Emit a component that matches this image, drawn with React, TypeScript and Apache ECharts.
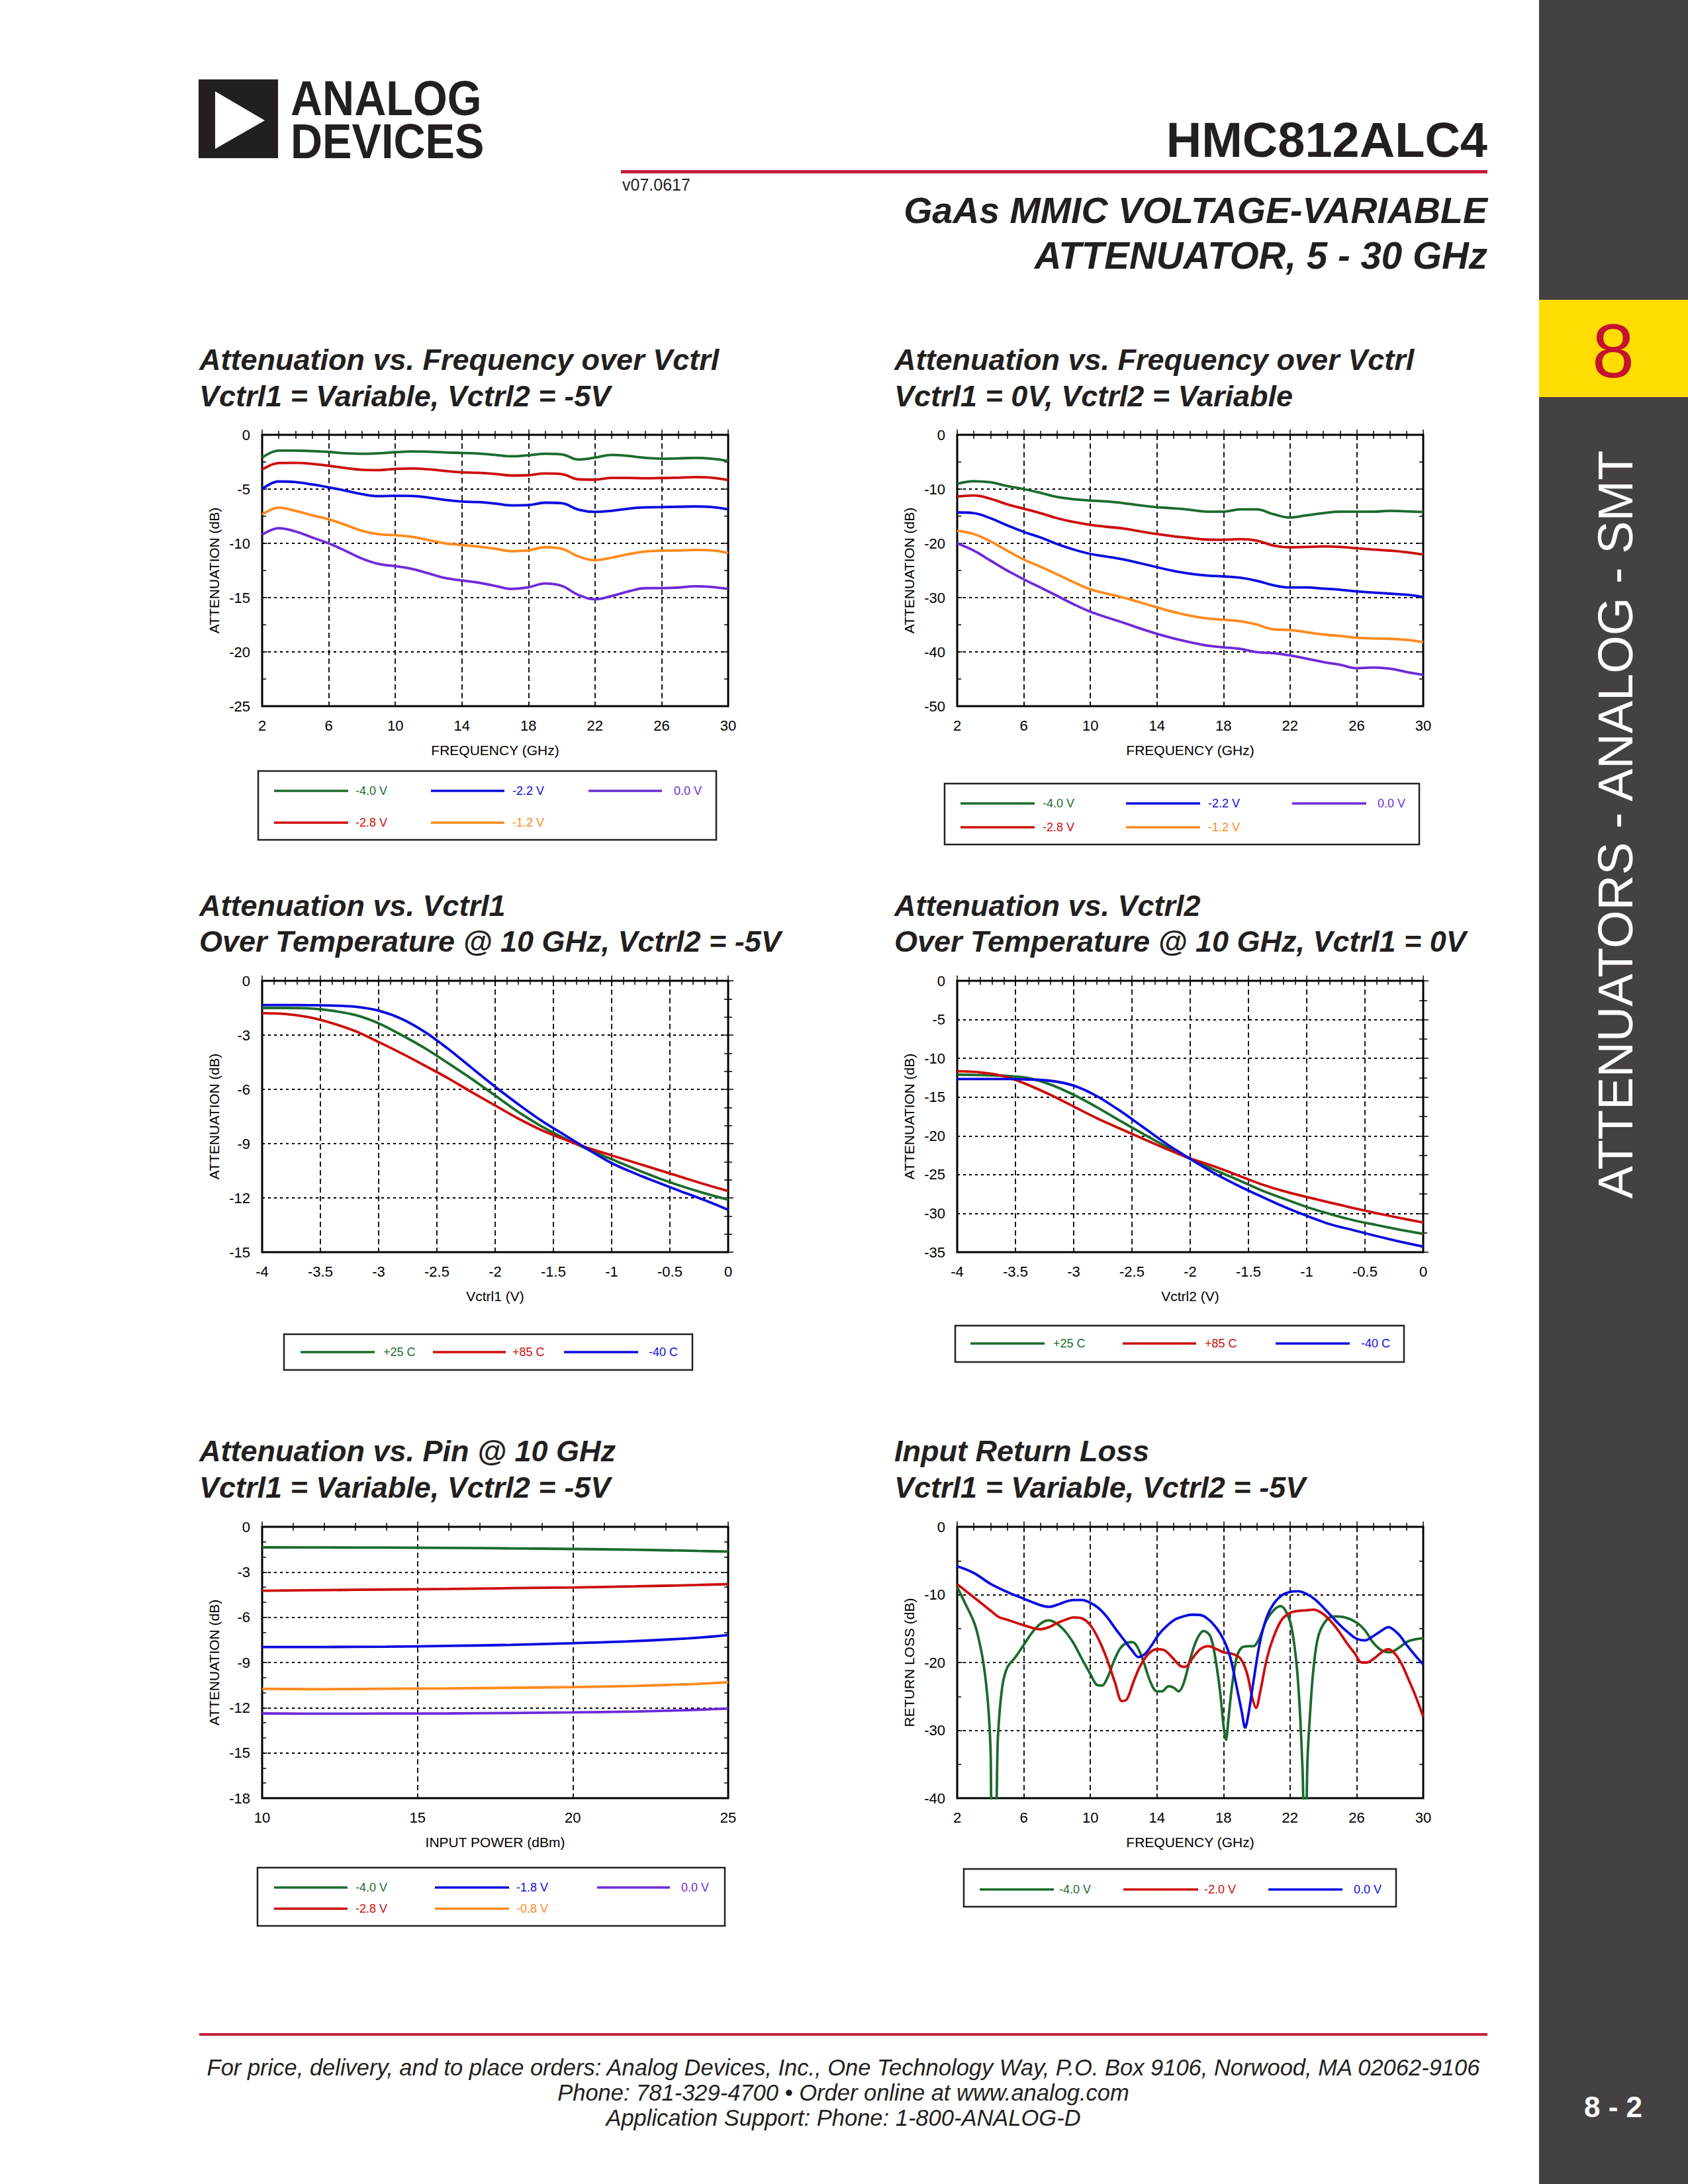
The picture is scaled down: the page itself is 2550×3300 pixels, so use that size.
import React, { useEffect, useRef } from "react";
import * as echarts from "echarts";

const FONT = '"Liberation Sans", Arial, Helvetica, sans-serif';
const GREEN = "#1b6b2c";
const RED = "#cc0d0d";
const BLUE = "#0b0be0";
const ORANGE = "#ff8a1e";
const PURPLE = "#6e2ad8";

// ---------- Chart 1: Attenuation vs Frequency over Vctrl1 ----------
const freqGHz = [2, 3, 4, 5, 6, 7, 8, 9, 10, 11, 12, 13, 14, 15, 16, 17, 18, 19, 20, 21, 22, 23, 24, 25, 26, 27, 28, 29, 30];
const c1Labels = ["-4.0 V", "-2.8 V", "-2.2 V", "-1.2 V", "0.0 V"];
const c1_v40 = [-2.1, -1.45, -1.45, -1.5, -1.57, -1.7, -1.75, -1.7, -1.6, -1.53, -1.56, -1.62, -1.67, -1.73, -1.85, -1.98, -1.88, -1.75, -1.8, -2.28, -2.1, -1.85, -1.95, -2.12, -2.2, -2.17, -2.13, -2.2, -2.4];
const c1_v28 = [-3.2, -2.6, -2.58, -2.68, -2.85, -3.05, -3.22, -3.25, -3.15, -3.1, -3.18, -3.33, -3.45, -3.5, -3.6, -3.75, -3.72, -3.56, -3.62, -4.1, -4.13, -3.97, -3.97, -4.0, -3.98, -3.95, -3.9, -3.95, -4.17];
const c1_v22 = [-5.0, -4.3, -4.35, -4.57, -4.84, -5.14, -5.47, -5.65, -5.62, -5.63, -5.78, -6.0, -6.15, -6.2, -6.34, -6.5, -6.47, -6.25, -6.3, -6.9, -7.1, -7.0, -6.8, -6.68, -6.66, -6.63, -6.6, -6.65, -6.87];
const c1_v12 = [-7.35, -6.72, -7.0, -7.42, -7.78, -8.3, -8.85, -9.15, -9.25, -9.4, -9.7, -10.0, -10.15, -10.3, -10.5, -10.72, -10.65, -10.35, -10.5, -11.2, -11.55, -11.32, -11.0, -10.75, -10.68, -10.66, -10.6, -10.65, -10.88];
const c1_v00 = [-9.2, -8.6, -8.9, -9.45, -10.0, -10.68, -11.4, -11.9, -12.1, -12.35, -12.77, -13.2, -13.42, -13.62, -13.92, -14.2, -14.05, -13.7, -13.92, -14.75, -15.15, -14.85, -14.43, -14.13, -14.12, -14.07, -13.96, -14.02, -14.2];

// ---------- Chart 2: Attenuation vs Frequency over Vctrl2 ----------
const c2Labels = ["-4.0 V", "-2.8 V", "-2.2 V", "-1.2 V", "0.0 V"];
const c2_v40 = [-9.02, -8.54, -8.74, -9.43, -10.0, -10.69, -11.46, -11.87, -12.11, -12.28, -12.6, -13.0, -13.33, -13.54, -13.82, -14.15, -14.15, -13.74, -13.74, -14.63, -15.24, -14.84, -14.43, -14.15, -14.15, -14.15, -14.02, -14.1, -14.23];
const c2_v28 = [-11.38, -11.18, -11.79, -12.8, -13.62, -14.43, -15.37, -16.06, -16.59, -16.95, -17.28, -17.8, -18.29, -18.7, -19.02, -19.3, -19.35, -19.23, -19.5, -20.4, -20.73, -20.65, -20.57, -20.65, -20.9, -21.14, -21.34, -21.63, -22.07];
const c2_v22 = [-14.3, -14.43, -15.37, -16.67, -17.89, -18.9, -20.12, -21.14, -21.95, -22.44, -22.97, -23.66, -24.39, -25.08, -25.6, -25.93, -26.1, -26.34, -26.9, -27.72, -28.13, -28.13, -28.33, -28.54, -28.86, -29.07, -29.27, -29.47, -29.88];
const c2_v12 = [-17.68, -18.29, -19.63, -21.34, -22.97, -24.31, -25.69, -27.15, -28.46, -29.27, -30.0, -30.89, -31.79, -32.64, -33.33, -33.82, -34.07, -34.35, -34.96, -35.85, -35.97, -36.38, -36.79, -37.07, -37.4, -37.52, -37.6, -37.8, -38.21];
const c2_v00 = [-20.0, -21.34, -23.17, -25.0, -26.63, -28.13, -29.67, -31.22, -32.6, -33.66, -34.63, -35.69, -36.67, -37.52, -38.21, -38.82, -39.15, -39.43, -40.04, -40.24, -40.65, -41.26, -41.87, -42.36, -43.0, -42.89, -43.09, -43.7, -44.23];

// ---------- Chart 3 & 4: Attenuation vs Vctrl over temperature ----------
const vctrlV = [-4, -3.8, -3.6, -3.4, -3.2, -3, -2.8, -2.6, -2.4, -2.2, -2, -1.8, -1.6, -1.4, -1.2, -1, -0.8, -0.6, -0.4, -0.2, 0];
const tempLabels = ["+25 C", "+85 C", "-40 C"];
const c3_p25 = [-1.5, -1.5, -1.52, -1.65, -1.89, -2.35, -3.01, -3.74, -4.57, -5.43, -6.34, -7.26, -8.05, -8.72, -9.33, -9.86, -10.4, -10.9, -11.35, -11.75, -12.1];
const c3_p85 = [-1.79, -1.83, -2.01, -2.34, -2.78, -3.38, -4.02, -4.7, -5.4, -6.16, -6.89, -7.62, -8.26, -8.78, -9.25, -9.65, -10.05, -10.45, -10.85, -11.25, -11.62];
const c3_m40 = [-1.34, -1.34, -1.35, -1.37, -1.43, -1.65, -2.11, -2.84, -3.78, -4.82, -5.85, -6.83, -7.74, -8.54, -9.33, -10.08, -10.65, -11.16, -11.65, -12.13, -12.66];
const c4_p25 = [-12.1, -12.15, -12.24, -12.52, -13.37, -14.71, -16.31, -18.07, -19.78, -21.43, -22.97, -24.33, -25.61, -26.95, -28.09, -29.17, -30.08, -30.88, -31.5, -32.1, -32.64];
const c4_p85 = [-11.67, -11.81, -12.3, -13.37, -14.71, -16.22, -17.73, -19.07, -20.4, -21.71, -22.91, -23.9, -25.04, -26.18, -27.12, -27.89, -28.6, -29.31, -29.97, -30.59, -31.16];
const c4_m40 = [-12.66, -12.66, -12.66, -12.72, -12.89, -13.52, -14.88, -16.79, -18.92, -21.06, -22.97, -24.76, -26.33, -27.75, -29.11, -30.31, -31.39, -32.16, -32.93, -33.64, -34.29];

// ---------- Chart 5: Attenuation vs Pin ----------
const pinDbm = [10, 12, 14, 16, 18, 20, 22, 24, 25];
const c5Labels = ["-4.0 V", "-2.8 V", "-1.8 V", "-0.8 V", "0.0 V"];
const c5_v40 = [-1.36, -1.37, -1.38, -1.4, -1.43, -1.47, -1.52, -1.6, -1.64];
const c5_v28 = [-4.24, -4.2, -4.16, -4.12, -4.07, -4.02, -3.95, -3.86, -3.8];
const c5_v18 = [-7.97, -7.97, -7.95, -7.9, -7.83, -7.72, -7.58, -7.36, -7.17];
const c5_v08 = [-10.75, -10.77, -10.74, -10.72, -10.68, -10.63, -10.55, -10.42, -10.31];
const c5_v00 = [-12.38, -12.4, -12.39, -12.38, -12.35, -12.31, -12.25, -12.14, -12.06];

// ---------- Chart 6: Input Return Loss ----------
const c6Labels = ["-4.0 V", "-2.0 V", "0.0 V"];
const rlFreqG = [2, 2.5, 3, 3.3, 3.6, 3.85, 4.0, 4.1, 4.3, 4.45, 4.7, 5, 5.5, 6, 6.5, 7, 7.5, 8, 8.5, 9, 9.5, 10, 10.4, 10.7, 11, 11.4, 11.8, 12.2, 12.5, 12.8, 13.2, 13.6, 14, 14.3, 14.7, 15, 15.3, 15.6, 16, 16.4, 16.8, 17.2, 17.5, 17.8, 18.0, 18.15, 18.3, 18.5, 18.8, 19.1, 19.5, 19.8, 20.1, 20.6, 21.05, 21.45, 21.8, 22.1, 22.4, 22.6, 22.75, 22.85, 22.95, 23.05, 23.2, 23.4, 23.7, 24.2, 24.7, 25.2, 25.7, 26.2, 26.6, 27, 27.5, 28, 28.5, 29, 29.4, 30];
const rlG = [-8.85, -11.4, -14.0, -16.6, -20.5, -26.0, -32.5, -42, -42, -30.9, -23.7, -20.8, -19.2, -17.4, -15.6, -14.3, -13.8, -14.3, -15.45, -17.2, -19.5, -21.7, -23.3, -23.4, -22.4, -19.9, -17.9, -17.1, -17.0, -17.6, -19.9, -22.8, -24.25, -24.25, -23.5, -23.7, -24.25, -23.1, -19.5, -16.6, -15.35, -16.1, -19.2, -24.4, -29.3, -31.4, -28.3, -23.7, -19.2, -17.8, -17.6, -17.6, -16.7, -13.7, -12.2, -11.7, -12.7, -14.95, -20.5, -27.6, -35.8, -42, -42, -34.1, -27.6, -21.1, -16.1, -13.7, -13.2, -13.3, -13.7, -14.5, -15.6, -17.1, -18.2, -18.5, -17.9, -17.0, -16.65, -16.4];
const rlFreqR = [2, 3, 4, 4.5, 5, 6, 7, 7.5, 8, 8.5, 9, 9.5, 10, 10.5, 11, 11.5, 11.9, 12.2, 12.6, 13, 13.5, 14, 14.4, 14.9, 15.4, 15.7, 16.1, 16.6, 17.1, 17.6, 18, 18.5, 19, 19.4, 19.75, 19.95, 20.2, 20.6, 21, 21.5, 22, 22.5, 23, 23.4, 23.9, 24.4, 24.9, 25.4, 25.9, 26.3, 26.6, 27, 27.5, 27.9, 28.3, 28.7, 29.1, 29.5, 30];
const rlR = [-8.45, -10.4, -12.35, -13.3, -13.7, -14.5, -15.1, -14.8, -14.2, -13.7, -13.35, -13.5, -14.5, -16.6, -19.5, -23.1, -25.7, -25.4, -22.8, -20.5, -18.7, -18.05, -18.15, -19.2, -20.5, -20.65, -19.5, -18.05, -17.6, -18.05, -18.5, -18.7, -19.35, -21.5, -25.4, -26.7, -24.4, -19.5, -16.3, -13.7, -12.7, -12.4, -12.3, -12.2, -12.7, -13.8, -15.3, -17.1, -18.7, -20.0, -20.0, -19.5, -18.5, -18.05, -18.7, -20.2, -22.4, -24.7, -28.0];
const rlFreqB = [2, 3, 4, 5, 6, 7, 7.5, 8, 8.5, 9, 9.5, 10, 10.5, 11, 11.5, 12, 12.5, 12.9, 13.3, 13.7, 14.1, 14.6, 15.1, 15.6, 16.1, 16.6, 17.1, 17.6, 18, 18.4, 18.8, 19.1, 19.3, 19.5, 19.8, 20.2, 20.6, 21, 21.5, 22, 22.5, 23, 23.5, 24, 24.5, 25, 25.5, 26, 26.5, 27, 27.5, 27.9, 28.5, 29, 29.5, 30];
const rlB = [-5.8, -6.8, -8.4, -9.6, -10.6, -11.55, -11.8, -11.5, -11.05, -10.8, -10.8, -11.2, -12.0, -13.3, -15.0, -16.6, -18.2, -19.2, -18.7, -17.4, -15.9, -14.6, -13.65, -13.2, -12.95, -13.0, -13.65, -15.0, -16.6, -19.2, -23.7, -27.3, -29.6, -27.6, -22.8, -16.9, -13.3, -11.4, -10.1, -9.6, -9.5, -9.9, -10.7, -11.9, -13.2, -14.5, -15.6, -16.5, -16.75, -16.1, -15.3, -14.8, -15.8, -17.4, -18.9, -20.3];

// ---------- Page texts ----------
const titles = [
  ["Attenuation vs. Frequency over Vctrl", "Vctrl1 = Variable, Vctrl2 = -5V"],
  ["Attenuation vs. Frequency over Vctrl", "Vctrl1 = 0V, Vctrl2 = Variable"],
  ["Attenuation vs. Vctrl1", "Over Temperature @ 10 GHz, Vctrl2 = -5V"],
  ["Attenuation vs. Vctrl2", "Over Temperature @ 10 GHz, Vctrl1 = 0V"],
  ["Attenuation vs. Pin @ 10 GHz", "Vctrl1 = Variable, Vctrl2 = -5V"],
  ["Input Return Loss", "Vctrl1 = Variable, Vctrl2 = -5V"],
];
const footerLines = [
  "For price, delivery, and to place orders: Analog Devices, Inc., One Technology Way, P.O. Box 9106, Norwood, MA 02062-9106",
  "Phone: 781-329-4700 \u2022 Order online at www.analog.com",
  "Application Support: Phone: 1-800-ANALOG-D",
];

type AxisCfg = { min: number; max: number; interval: number; minor: number; name: string };

function zip(xs: number[], ys: number[]) {
  return xs.map((x, i) => [x, ys[i]]);
}

function buildAxes(gi: number, x: AxisCfg, y: AxisCfg) {
  const tick = { color: "#000", width: 1.5 };
  const label = { color: "#000", fontSize: 22, fontFamily: FONT };
  const nameStyle = { color: "#000", fontSize: 21, fontFamily: FONT };
  const base = (c: AxisCfg) => ({
    type: "value",
    gridIndex: gi,
    min: c.min,
    max: c.max,
    interval: c.interval,
    axisLine: { show: false },
    axisTick: { show: true, inside: true, length: 8, lineStyle: tick },
    minorTick: { show: true, splitNumber: c.minor, length: 6, lineStyle: tick },
  });
  const xb = {
    ...base(x),
    position: "bottom",
    axisLabel: { ...label, margin: 18, showMinLabel: true, showMaxLabel: true },
    splitLine: { show: true, lineStyle: { color: "#000", width: 1.8, type: [8, 5] } },
    name: x.name,
    nameLocation: "middle",
    nameGap: 56,
    nameTextStyle: nameStyle,
  };
  const xt = { ...base(x), position: "top", axisLabel: { show: false }, splitLine: { show: false } };
  const yl = {
    ...base(y),
    position: "left",
    axisLabel: { ...label, margin: 18, showMinLabel: true, showMaxLabel: true },
    splitLine: { show: true, lineStyle: { color: "#000", width: 1.8, type: [4, 5] } },
    name: y.name,
    nameLocation: "middle",
    nameGap: 62,
    nameTextStyle: nameStyle,
  };
  const yr = { ...base(y), position: "right", axisLabel: { show: false }, splitLine: { show: false } };
  return { xs: [xb, xt], ys: [yl, yr] };
}

type SeriesDef = { name: string; color: string; data: number[][] };

const charts: { grid: number[]; x: AxisCfg; y: AxisCfg; smooth: number; series: SeriesDef[] }[] = [
  {
    grid: [396, 657, 704, 410],
    x: { min: 2, max: 30, interval: 4, minor: 4, name: "FREQUENCY (GHz)" },
    y: { min: -25, max: 0, interval: 5, minor: 2, name: "ATTENUATION (dB)" },
    smooth: 0.4,
    series: [
      { name: c1Labels[0], color: GREEN, data: zip(freqGHz, c1_v40) },
      { name: c1Labels[1], color: RED, data: zip(freqGHz, c1_v28) },
      { name: c1Labels[2], color: BLUE, data: zip(freqGHz, c1_v22) },
      { name: c1Labels[3], color: ORANGE, data: zip(freqGHz, c1_v12) },
      { name: c1Labels[4], color: PURPLE, data: zip(freqGHz, c1_v00) },
    ],
  },
  {
    grid: [1446, 657, 704, 410],
    x: { min: 2, max: 30, interval: 4, minor: 4, name: "FREQUENCY (GHz)" },
    y: { min: -50, max: 0, interval: 10, minor: 2, name: "ATTENUATION (dB)" },
    smooth: 0.4,
    series: [
      { name: c2Labels[0], color: GREEN, data: zip(freqGHz, c2_v40) },
      { name: c2Labels[1], color: RED, data: zip(freqGHz, c2_v28) },
      { name: c2Labels[2], color: BLUE, data: zip(freqGHz, c2_v22) },
      { name: c2Labels[3], color: ORANGE, data: zip(freqGHz, c2_v12) },
      { name: c2Labels[4], color: PURPLE, data: zip(freqGHz, c2_v00) },
    ],
  },
  {
    grid: [396, 1482, 704, 410],
    x: { min: -4, max: 0, interval: 0.5, minor: 5, name: "Vctrl1 (V)" },
    y: { min: -15, max: 0, interval: 3, minor: 3, name: "ATTENUATION (dB)" },
    smooth: 0.3,
    series: [
      { name: tempLabels[0], color: GREEN, data: zip(vctrlV, c3_p25) },
      { name: tempLabels[1], color: RED, data: zip(vctrlV, c3_p85) },
      { name: tempLabels[2], color: BLUE, data: zip(vctrlV, c3_m40) },
    ],
  },
  {
    grid: [1446, 1482, 704, 410],
    x: { min: -4, max: 0, interval: 0.5, minor: 5, name: "Vctrl2 (V)" },
    y: { min: -35, max: 0, interval: 5, minor: 2, name: "ATTENUATION (dB)" },
    smooth: 0.3,
    series: [
      { name: tempLabels[0], color: GREEN, data: zip(vctrlV, c4_p25) },
      { name: tempLabels[1], color: RED, data: zip(vctrlV, c4_p85) },
      { name: tempLabels[2], color: BLUE, data: zip(vctrlV, c4_m40) },
    ],
  },
  {
    grid: [396, 2307, 704, 410],
    x: { min: 10, max: 25, interval: 5, minor: 5, name: "INPUT POWER (dBm)" },
    y: { min: -18, max: 0, interval: 3, minor: 3, name: "ATTENUATION (dB)" },
    smooth: 0.4,
    series: [
      { name: c5Labels[0], color: GREEN, data: zip(pinDbm, c5_v40) },
      { name: c5Labels[1], color: RED, data: zip(pinDbm, c5_v28) },
      { name: c5Labels[2], color: BLUE, data: zip(pinDbm, c5_v18) },
      { name: c5Labels[3], color: ORANGE, data: zip(pinDbm, c5_v08) },
      { name: c5Labels[4], color: PURPLE, data: zip(pinDbm, c5_v00) },
    ],
  },
  {
    grid: [1446, 2307, 704, 410],
    x: { min: 2, max: 30, interval: 4, minor: 4, name: "FREQUENCY (GHz)" },
    y: { min: -40, max: 0, interval: 10, minor: 2, name: "RETURN LOSS (dB)" },
    smooth: 0.35,
    series: [
      { name: c6Labels[0], color: GREEN, data: zip(rlFreqG, rlG) },
      { name: c6Labels[1], color: RED, data: zip(rlFreqR, rlR) },
      { name: c6Labels[2], color: BLUE, data: zip(rlFreqB, rlB) },
    ],
  },
];

// legend layouts: box [x,y,w,h], rows, columns [lineX1,lineX2,textX], entries [col,row,label,color]
const legends = [
  {
    box: [390, 1165, 692, 104], rows: [1195, 1243], cols: [[414, 526, 537], [651, 762, 774], [889, 1000, 1018]],
    items: [[0, 0, c1Labels[0], GREEN], [1, 0, c1Labels[2], BLUE], [2, 0, c1Labels[4], PURPLE], [0, 1, c1Labels[1], RED], [1, 1, c1Labels[3], ORANGE]],
  },
  {
    box: [1427, 1184, 717, 92], rows: [1214, 1250], cols: [[1451, 1563, 1575], [1701, 1813, 1825], [1952, 2064, 2081]],
    items: [[0, 0, c2Labels[0], GREEN], [1, 0, c2Labels[2], BLUE], [2, 0, c2Labels[4], PURPLE], [0, 1, c2Labels[1], RED], [1, 1, c2Labels[3], ORANGE]],
  },
  {
    box: [429, 2016, 617, 54], rows: [2043], cols: [[454, 566, 579], [654, 764, 774], [852, 964, 980]],
    items: [[0, 0, tempLabels[0], GREEN], [1, 0, tempLabels[1], RED], [2, 0, tempLabels[2], BLUE]],
  },
  {
    box: [1443, 2003, 678, 55], rows: [2030], cols: [[1466, 1578, 1591], [1696, 1807, 1820], [1927, 2039, 2056]],
    items: [[0, 0, tempLabels[0], GREEN], [1, 0, tempLabels[1], RED], [2, 0, tempLabels[2], BLUE]],
  },
  {
    box: [389, 2822, 706, 88], rows: [2852, 2884], cols: [[414, 525, 537], [657, 769, 780], [902, 1012, 1029]],
    items: [[0, 0, c5Labels[0], GREEN], [1, 0, c5Labels[2], BLUE], [2, 0, c5Labels[4], PURPLE], [0, 1, c5Labels[1], RED], [1, 1, c5Labels[3], ORANGE]],
  },
  {
    box: [1456, 2824, 653, 57], rows: [2855], cols: [[1480, 1592, 1600], [1697, 1810, 1819], [1916, 2028, 2045]],
    items: [[0, 0, c6Labels[0], GREEN], [1, 0, c6Labels[1], RED], [2, 0, c6Labels[2], BLUE]],
  },
];

function txt(
  text: string, x: number, y: number, size: number, fill: string,
  opts: { align?: string; v?: string; weight?: string; style?: string; rotation?: number; scaleX?: number } = {}
) {
  const align = opts.align || "left";
  const v = opts.v || "middle";
  return {
    type: "text",
    x, y,
    rotation: opts.rotation || 0,
    scaleX: opts.scaleX || 1,
    silent: true,
    z: 10,
    style: {
      text, x: 0, y: 0, fill,
      fontSize: size, fontFamily: FONT,
      fontWeight: opts.weight || "normal",
      fontStyle: opts.style || "normal",
      align, verticalAlign: v, textAlign: align, textVerticalAlign: v,
    },
  };
}

function buildGraphics() {
  const g: any[] = [];
  // sidebar
  g.push({ type: "rect", shape: { x: 2325, y: 0, width: 225, height: 3300 }, style: { fill: "#454142" }, silent: true });
  g.push({ type: "rect", shape: { x: 2325, y: 453, width: 225, height: 147 }, style: { fill: "#ffdd00" }, silent: true });
  g.push(txt("8", 2437, 530, 115, "#c41230", { align: "center" }));
  g.push(txt("ATTENUATORS - ANALOG - SMT", 2440, 1246, 74, "#ffffff", { align: "center", rotation: Math.PI / 2 }));
  g.push(txt("8 - 2", 2437, 3183, 44, "#ffffff", { align: "center", weight: "bold" }));
  // logo
  g.push({ type: "rect", shape: { x: 300, y: 120, width: 120, height: 119 }, style: { fill: "#231f20" }, silent: true });
  g.push({ type: "polygon", shape: { points: [[325, 138], [325, 225], [400, 182]] }, style: { fill: "#ffffff" }, silent: true });
  g.push(txt("ANALOG", 439, 148, 74, "#231f20", { weight: "bold", scaleX: 0.9 }));
  g.push(txt("DEVICES", 439, 213, 74, "#231f20", { weight: "bold", scaleX: 0.9 }));
  // header
  g.push(txt("HMC812ALC4", 2247, 211, 74, "#231f20", { align: "right", weight: "bold" }));
  g.push({ type: "rect", shape: { x: 938, y: 257, width: 1309, height: 5 }, style: { fill: "#c41e3a" }, silent: true });
  g.push(txt("v07.0617", 940, 279, 25, "#231f20"));
  g.push(txt("GaAs MMIC VOLTAGE-VARIABLE", 2247, 318, 55.5, "#231f20", { align: "right", weight: "bold", style: "italic" }));
  g.push(txt("ATTENUATOR, 5 - 30 GHz", 2247, 386, 56.5, "#231f20", { align: "right", weight: "bold", style: "italic" }));
  // chart titles
  const tpos = [[301, 543, 598], [1351, 543, 598], [301, 1368, 1422], [1351, 1368, 1422], [301, 2192, 2247], [1351, 2192, 2247]];
  titles.forEach((t, i) => {
    g.push(txt(t[0], tpos[i][0], tpos[i][1], 45, "#231f20", { weight: "bold", style: "italic" }));
    g.push(txt(t[1], tpos[i][0], tpos[i][2], 45, "#231f20", { weight: "bold", style: "italic" }));
  });
  // legends
  legends.forEach((L) => {
    g.push({
      type: "rect", shape: { x: L.box[0], y: L.box[1], width: L.box[2], height: L.box[3] },
      style: { fill: "#ffffff", stroke: "#222", lineWidth: 2.5 }, silent: true, z: 5,
    });
    L.items.forEach((it: any) => {
      const c = L.cols[it[0]];
      const y = L.rows[it[1]];
      g.push({ type: "line", shape: { x1: c[0], y1: y, x2: c[1], y2: y }, style: { stroke: it[3], lineWidth: 3.5 }, silent: true, z: 6 });
      g.push(txt(it[2], c[2], y, 18, it[3]));
    });
  });
  // footer
  g.push({ type: "rect", shape: { x: 301, y: 3072, width: 1946, height: 4 }, style: { fill: "#c41e3a" }, silent: true });
  const fy = [3124, 3162, 3200];
  footerLines.forEach((l, i) => g.push(txt(l, 1274, fy[i], 34.5, "#231f20", { align: "center", style: "italic" })));
  return g;
}

function buildOption() {
  const grids: any[] = [];
  const xAxes: any[] = [];
  const yAxes: any[] = [];
  const series: any[] = [];
  charts.forEach((c, gi) => {
    grids.push({
      left: c.grid[0], top: c.grid[1], width: c.grid[2], height: c.grid[3],
      show: true, borderColor: "#000", borderWidth: 3, backgroundColor: "rgba(0,0,0,0)",
    });
    const ax = buildAxes(gi, c.x, c.y);
    xAxes.push(...ax.xs);
    yAxes.push(...ax.ys);
    c.series.forEach((s) => {
      series.push({
        type: "line",
        name: s.name,
        xAxisIndex: gi * 2,
        yAxisIndex: gi * 2,
        data: s.data,
        smooth: c.smooth,
        showSymbol: false,
        symbol: "none",
        clip: true,
        lineStyle: { color: s.color, width: 3.8 },
        itemStyle: { color: s.color },
        z: 3,
      });
    });
  });
  return {
    animation: false,
    backgroundColor: "#ffffff",
    textStyle: { fontFamily: FONT },
    grid: grids,
    xAxis: xAxes,
    yAxis: yAxes,
    series,
    graphic: { elements: buildGraphics() },
  };
}

export default function App() {
  const ref = useRef<HTMLDivElement>(null);
  useEffect(() => {
    if (!ref.current) return;
    const chart = echarts.init(ref.current, undefined, { renderer: "svg", width: 2550, height: 3300 });
    chart.setOption(buildOption() as any);
    return () => chart.dispose();
  }, []);
  return (
    <div
      ref={ref}
      style={{ position: "absolute", left: 0, top: 0, width: 2550, height: 3300, background: "#ffffff" }}
    />
  );
}
